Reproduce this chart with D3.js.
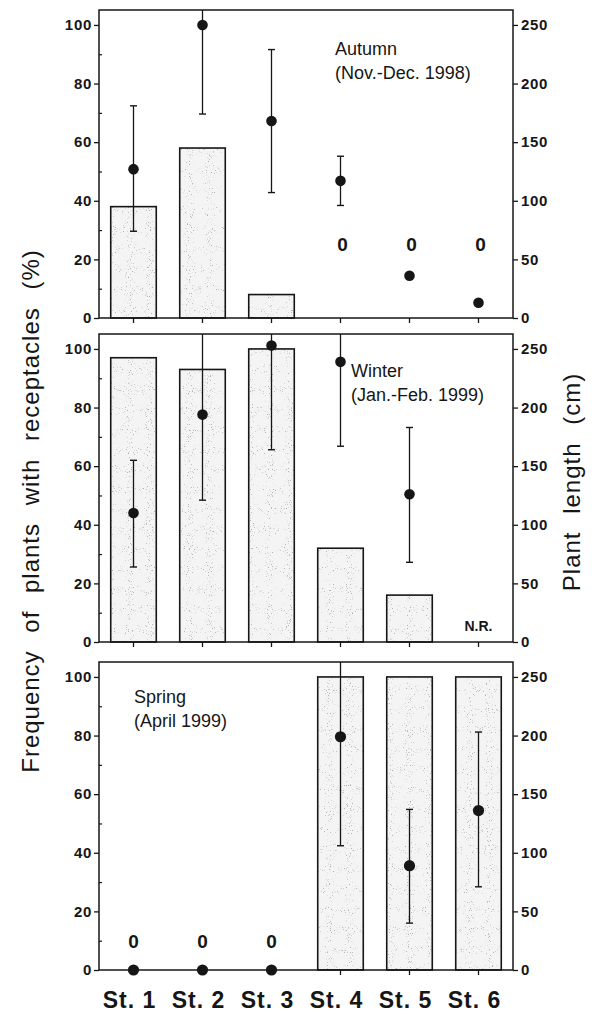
<!DOCTYPE html>
<html><head><meta charset="utf-8">
<script src="https://cdn.jsdelivr.net/npm/d3@7"></script>
<style>
html,body{margin:0;padding:0;background:#fff;}
svg{display:block;font-family:"Liberation Sans",Arial,Helvetica,sans-serif;}
</style></head>
<body>
<script>
// ---- data ----
const stations = ["St. 1", "St. 2", "St. 3", "St. 4", "St. 5", "St. 6"];
const freqTicks = [0, 20, 40, 60, 80, 100];
const freqMinorTicks = [10, 30, 50, 70, 90];
const lengthTicks = [0, 50, 100, 150, 200, 250];

const autumnFreq = [38, 58, 8, 0, 0, 0];
const autumnLen = [127, 250, 168, 117, 36, 13];
const autumnLenLo = [74, 174, 107, 96, null, null];
const autumnLenHi = [181, 263, 229, 138, null, null];
const autumnNotes = ["", "", "", "0", "0", "0"];

const winterFreq = [97, 93, 100, 32, 16, null];
const winterLen = [110, 194, 253, 239, 126, null];
const winterLenLo = [64, 121, 164, 167, 68, null];
const winterLenHi = [155, 270, 270, 270, 183, null];
const winterNotes = ["", "", "", "", "", "N.R."];

const springFreq = [0, 0, 0, 100, 100, 100];
const springLen = [0, 0, 0, 199, 89, 136];
const springLenLo = [null, null, null, 106, 40, 71];
const springLenHi = [null, null, null, 270, 137, 203];
const springNotes = ["0", "0", "0", "", "", ""];

const seasonTitles = [["Autumn", "(Nov.-Dec. 1998)"], ["Winter", "(Jan.-Feb. 1999)"], ["Spring", "(April 1999)"]];

const panels = [
  {freq: autumnFreq, len: autumnLen, lo: autumnLenLo, hi: autumnLenHi, notes: autumnNotes, title: seasonTitles[0]},
  {freq: winterFreq, len: winterLen, lo: winterLenLo, hi: winterLenHi, notes: winterNotes, title: seasonTitles[1]},
  {freq: springFreq, len: springLen, lo: springLenLo, hi: springLenHi, notes: springNotes, title: seasonTitles[2]}
];

// ---- layout ----
const W = 598, H = 1014;
const left = 99, right = 513;
const panelTops = [10, 334, 662];
const panelH = 308;
const ink = "#161616";

const svg = d3.select("body").append("svg").attr("width", W).attr("height", H);
const defs = svg.append("defs");
const filt = defs.append("filter").attr("id", "stipple").attr("x", 0).attr("y", 0).attr("width", 1).attr("height", 1);
filt.append("feTurbulence").attr("type", "fractalNoise").attr("baseFrequency", 0.95).attr("numOctaves", 1).attr("seed", 7).attr("result", "noise");
filt.append("feColorMatrix").attr("in", "noise").attr("type", "matrix")
  .attr("values", "0 0 0 0 0.45  0 0 0 0 0.45  0 0 0 0 0.45  10 0 0 0 -6.4").attr("result", "dots");
filt.append("feComposite").attr("in", "dots").attr("in2", "SourceAlpha").attr("operator", "in").attr("result", "dotsIn");
const fm = filt.append("feMerge");
fm.append("feMergeNode").attr("in", "SourceGraphic");
fm.append("feMergeNode").attr("in", "dotsIn");

const x = d3.scaleBand().domain(stations).range([left, right]).paddingInner(0.34).paddingOuter(0.17);

panels.forEach((p, i) => {
  const top = panelTops[i], bottom = top + panelH;
  const yF = d3.scaleLinear().domain([0, 105.1]).range([bottom, top]);
  const yL = d3.scaleLinear().domain([0, 262.75]).range([bottom, top]);
  const g = svg.append("g");

  defs.append("clipPath").attr("id", "clip" + i).append("rect")
    .attr("x", left).attr("y", top).attr("width", right - left).attr("height", panelH);

  // bars
  const barData = stations.map((s, k) => ({s, v: p.freq[k]})).filter(d => d.v != null && d.v > 0);
  g.selectAll(".barfill").data(barData).enter().append("rect")
    .attr("x", d => x(d.s)).attr("width", x.bandwidth())
    .attr("y", d => yF(d.v)).attr("height", d => yF(0) - yF(d.v))
    .attr("fill", "#f4f4f4").attr("filter", "url(#stipple)");
  g.selectAll(".barline").data(barData).enter().append("rect")
    .attr("x", d => x(d.s)).attr("width", x.bandwidth())
    .attr("y", d => yF(d.v)).attr("height", d => yF(0) - yF(d.v))
    .attr("fill", "none").attr("stroke", ink).attr("stroke-width", 1.6);

  // error bars
  const errData = stations.map((s, k) => ({s, lo: p.lo[k], hi: p.hi[k]})).filter(d => d.lo != null);
  const eg = g.append("g").attr("clip-path", "url(#clip" + i + ")");
  eg.selectAll(".err").data(errData).enter().append("line")
    .attr("x1", d => x(d.s) + x.bandwidth() / 2).attr("x2", d => x(d.s) + x.bandwidth() / 2)
    .attr("y1", d => yL(d.lo)).attr("y2", d => yL(d.hi))
    .attr("stroke", ink).attr("stroke-width", 1.3);
  const caps = [];
  errData.forEach(d => { caps.push({s: d.s, v: d.lo}); if (d.hi <= 255) caps.push({s: d.s, v: d.hi}); });
  eg.selectAll(".cap").data(caps).enter().append("line")
    .attr("x1", d => x(d.s) + x.bandwidth() / 2 - 3.5).attr("x2", d => x(d.s) + x.bandwidth() / 2 + 3.5)
    .attr("y1", d => yL(d.v)).attr("y2", d => yL(d.v))
    .attr("stroke", ink).attr("stroke-width", 1.4);

  // frame
  g.append("rect").attr("x", left).attr("y", top).attr("width", right - left).attr("height", panelH)
    .attr("fill", "none").attr("stroke", ink).attr("stroke-width", 1.5);

  // dots
  const dotData = stations.map((s, k) => ({s, v: p.len[k]})).filter(d => d.v != null);
  g.selectAll(".dot").data(dotData).enter().append("circle")
    .attr("cx", d => x(d.s) + x.bandwidth() / 2).attr("cy", d => yL(d.v))
    .attr("r", i === 2 ? 5.6 : 5.3).attr("fill", ink);

  // left axis
  const la = g.append("g").attr("transform", `translate(${left},0)`)
    .call(d3.axisLeft(yF).tickValues(freqTicks).tickSize(5).tickPadding(2));
  la.select(".domain").remove();
  la.selectAll("text").attr("font-size", 15).attr("font-weight", "bold").attr("fill", ink)
    .attr("letter-spacing", 0.7);
  la.selectAll("line").attr("stroke", ink).attr("stroke-width", 1.3);
  const lm = g.append("g").attr("transform", `translate(${left},0)`)
    .call(d3.axisRight(yF).tickValues(freqMinorTicks).tickSize(3).tickFormat(""));
  lm.select(".domain").remove();
  lm.selectAll("line").attr("stroke", ink).attr("stroke-width", 1.2);

  // right axis
  const ra = g.append("g").attr("transform", `translate(${right},0)`)
    .call(d3.axisRight(yL).tickValues(lengthTicks).tickSize(5).tickPadding(3));
  ra.select(".domain").remove();
  ra.selectAll("text").attr("font-size", 15).attr("font-weight", "bold").attr("fill", ink)
    .attr("letter-spacing", 0.7);
  ra.selectAll("line").attr("stroke", ink).attr("stroke-width", 1.3);

  // bottom ticks
  const ba = g.append("g").attr("transform", `translate(0,${bottom})`)
    .call(d3.axisBottom(x).tickSize(5).tickFormat(i === 2 ? null : ""));
  ba.select(".domain").remove();
  ba.selectAll("line").attr("stroke", ink).attr("stroke-width", 1.3);
  if (i === 2) {
    ba.selectAll("text").attr("font-size", 23).attr("font-weight", "bold").attr("fill", ink)
      .attr("letter-spacing", 1).attr("dy", 0).attr("y", 38).attr("dx", -4);
  }

  // notes ("0", "N.R.")
  const noteY = i === 0 ? 23 : (i === 1 ? 3.8 : 7.5);
  const noteData = stations.map((s, k) => ({s, t: p.notes[k]})).filter(d => d.t);
  g.selectAll(".note").data(noteData).enter().append("text")
    .attr("x", d => x(d.s) + x.bandwidth() / 2 + (i === 0 ? 2 : 0)).attr("y", yF(noteY))
    .attr("text-anchor", "middle").attr("font-weight", "bold")
    .attr("font-size", i === 1 ? 14 : 19).attr("fill", ink).text(d => d.t);

  // season title
  const tx = i === 0 ? 335 : (i === 1 ? 351 : 134);
  const ty = i === 0 ? 55 : (i === 1 ? 377 : 703);
  const tt = g.append("text").attr("x", tx).attr("y", ty).attr("font-size", 18).attr("fill", ink);
  tt.append("tspan").attr("x", tx).text(p.title[0]);
  tt.append("tspan").attr("x", tx).attr("dy", 24).text(p.title[1]);
});

// axis titles
svg.append("text").attr("transform", "translate(39,511) rotate(-90)")
  .attr("text-anchor", "middle").attr("font-size", 24).attr("fill", ink)
  .attr("letter-spacing", 1).attr("word-spacing", 10)
  .text("Frequency of plants with receptacles (%)");
svg.append("text").attr("transform", "translate(580,482) rotate(-90)")
  .attr("text-anchor", "middle").attr("font-size", 24).attr("fill", ink)
  .attr("letter-spacing", 1).attr("word-spacing", 10)
  .text("Plant length (cm)");
</script>
</body></html>
